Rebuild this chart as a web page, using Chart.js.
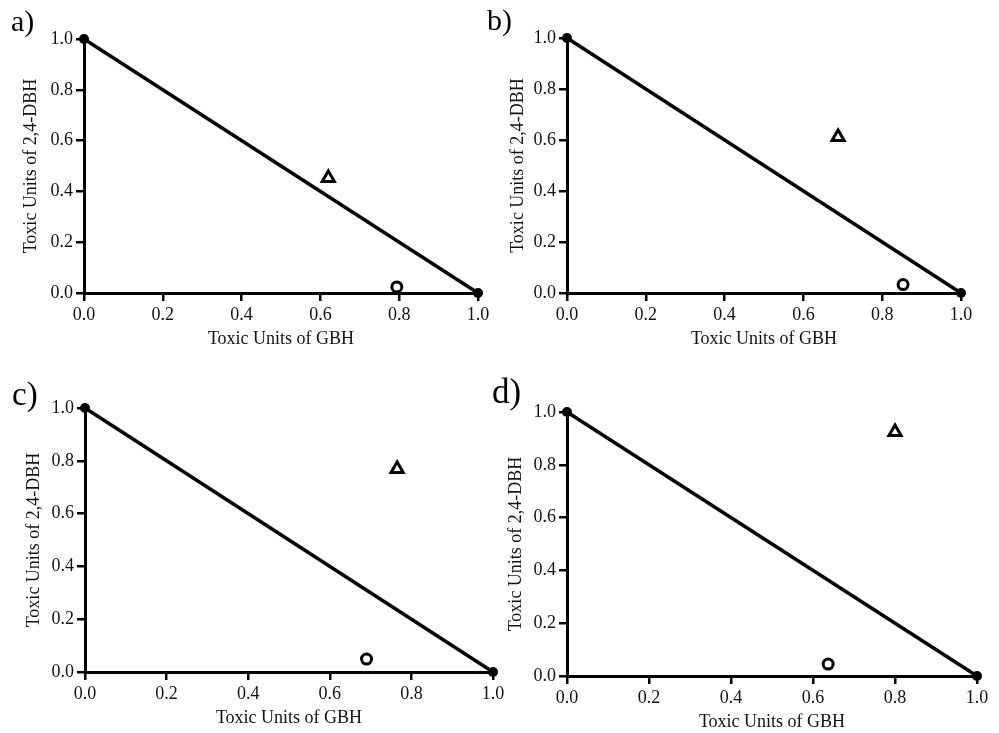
<!DOCTYPE html>
<html>
<head>
<meta charset="utf-8">
<script src="https://cdn.jsdelivr.net/npm/chart.js@4.4.0/dist/chart.umd.min.js"></script>
<style>
  html, body { margin: 0; padding: 0; background: #fff; }
  #wrap { position: relative; width: 999px; height: 733px; overflow: hidden; }
  .panel { position: absolute; }
  .tag { position: absolute; font-family: "Liberation Serif", serif; color: #000; line-height: 1; }
</style>
</head>
<body>
<div id="wrap"></div>
<script>
// Valores (isobolograma, 4 paneles)
const panelLabels = ['a)', 'b)', 'c)', 'd)'];
const xTitle = 'Toxic Units of GBH';
const yTitle = 'Toxic Units of 2,4-DBH';
const tickValues = [0.0, 0.2, 0.4, 0.6, 0.8, 1.0];

// línea de aditividad (extremos)
const additiveX = [0, 1];
const additiveY = [1, 0];

// triángulos abiertos
const triangleX = [0.62, 0.688, 0.765, 0.80];
const triangleY = [0.453, 0.612, 0.769, 0.924];

// círculos abiertos
const circleX = [0.794, 0.853, 0.69, 0.637];
const circleY = [0.024, 0.033, 0.049, 0.045];

// geometría de cada panel (px)
const layoutPaneles = [
  { left: 0,   top: 0,   w: 500, h: 360, yW: 84, padR: 22, padT: 39, xH: 67, yTP: 20, xTP: 10, tag: [11, 6, 30] },
  { left: 500, top: 0,   w: 499, h: 360, yW: 67, padR: 38, padT: 38, xH: 67, yTP: 7,  xTP: 10, tag: [487, 5, 30] },
  { left: 0,   top: 360, w: 520, h: 373, yW: 85, padR: 27, padT: 48, xH: 61, yTP: 23, xTP: 4,  tag: [12, 378, 33] },
  { left: 500, top: 360, w: 499, h: 373, yW: 67, padR: 22, padT: 52, xH: 57, yTP: 5,  xTP: 0,  tag: [492, 374, 35] }
];

const FUENTE = 'Liberation Serif';

function puntos(xs, ys) {
  return xs.map((x, i) => ({ x: x, y: ys[i] }));
}

function crearPanel(i) {
  const L = layoutPaneles[i];
  const wrap = document.getElementById('wrap');

  const div = document.createElement('div');
  div.className = 'panel';
  div.style.left = L.left + 'px';
  div.style.top = L.top + 'px';
  div.style.width = L.w + 'px';
  div.style.height = L.h + 'px';
  const canvas = document.createElement('canvas');
  div.appendChild(canvas);
  wrap.appendChild(div);

  const tag = document.createElement('div');
  tag.className = 'tag';
  tag.style.left = L.tag[0] + 'px';
  tag.style.top = L.tag[1] + 'px';
  tag.style.fontSize = L.tag[2] + 'px';
  tag.textContent = panelLabels[i];
  wrap.appendChild(tag);

  const ejeComun = {
    type: 'linear',
    min: 0,
    max: 1,
    border: { display: true, color: '#000', width: 3 },
    grid: { drawOnChartArea: false, drawTicks: true, tickLength: 8, color: '#000', lineWidth: 2.5 },
    ticks: {
      stepSize: 0.2,
      color: '#111',
      padding: 3,
      font: { family: FUENTE, size: 18 },
      callback: (v) => tickValues.includes(Math.round(v * 10) / 10) ? v.toFixed(1) : ''
    }
  };

  new Chart(canvas, {
    type: 'scatter',
    data: {
      datasets: [
        {
          type: 'line',
          data: puntos(additiveX, additiveY),
          borderColor: '#000',
          borderWidth: 3.5,
          pointRadius: 5,
          pointBackgroundColor: '#000',
          pointBorderColor: '#000',
          pointBorderWidth: 0,
          clip: false,
          order: 2
        },
        {
          data: [{ x: triangleX[i], y: triangleY[i] }],
          pointStyle: 'triangle',
          pointRadius: 7,
          pointBorderWidth: 3,
          pointBorderColor: '#000',
          pointBackgroundColor: '#fff',
          clip: false,
          order: 1
        },
        {
          data: [{ x: circleX[i], y: circleY[i] }],
          pointStyle: 'circle',
          pointRadius: 5,
          pointBorderWidth: 3,
          pointBorderColor: '#000',
          pointBackgroundColor: '#fff',
          clip: false,
          order: 1
        }
      ]
    },
    options: {
      responsive: true,
      maintainAspectRatio: false,
      animation: false,
      layout: { padding: { left: 0, right: L.padR, top: L.padT, bottom: 0 } },
      plugins: { legend: { display: false }, tooltip: { enabled: false } },
      scales: {
        x: {
          ...ejeComun,
          title: { display: true, text: xTitle, color: '#111', font: { family: FUENTE, size: 18 }, padding: { top: 0, bottom: L.xTP } },
          afterFit: (s) => { s.height = L.xH; s.paddingLeft = 0; s.paddingRight = 0; }
        },
        y: {
          ...ejeComun,
          title: { display: true, text: yTitle, color: '#111', font: { family: FUENTE, size: 18 }, padding: { top: L.yTP, bottom: 0 } },
          afterFit: (s) => { s.width = L.yW; s.paddingTop = 0; s.paddingBottom = 0; }
        }
      }
    }
  });
}

window.addEventListener('DOMContentLoaded', () => {
  for (let i = 0; i < 4; i++) crearPanel(i);
});
</script>
</body>
</html>
